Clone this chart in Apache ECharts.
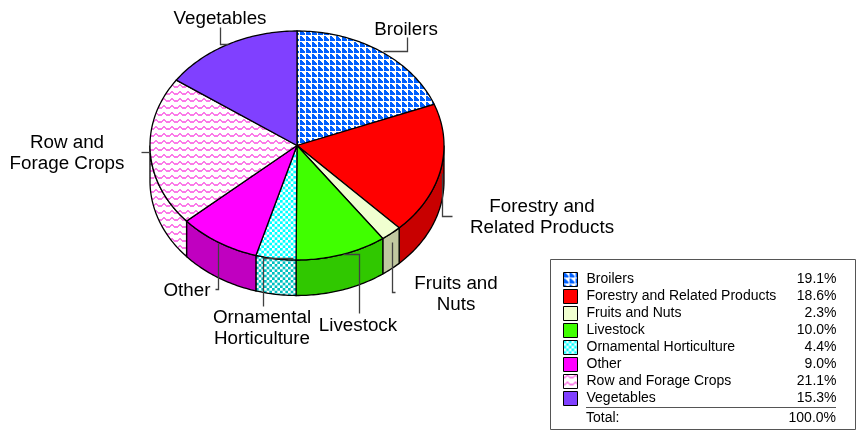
<!DOCTYPE html>
<html>
<head>
<meta charset="utf-8">
<style>html,body{margin:0;padding:0;background:#fff}#c{width:856px;height:431px}</style>
<script src="https://cdn.jsdelivr.net/npm/echarts@6/dist/echarts.min.js"></script>
</head>
<body>
<div id="c"></div>
<script>
var categories = ['Broilers','Forestry and Related Products','Fruits and Nuts','Livestock','Ornamental Horticulture','Other','Row and Forage Crops','Vegetables'];
var shares = [19.1,18.6,2.3,10.0,4.4,9.0,21.1,15.3];
var totalLabel = 'Total:';
var totalValue = '100.0%';
var sliceLabels = {
  'Broilers':['Broilers'],
  'Forestry and Related Products':['Forestry and','Related Products'],
  'Fruits and Nuts':['Fruits and','Nuts'],
  'Livestock':['Livestock'],
  'Ornamental Horticulture':['Ornamental','Horticulture'],
  'Other':['Other'],
  'Row and Forage Crops':['Row and','Forage Crops'],
  'Vegetables':['Vegetables']
};

/* ---------- layout and styling ---------- */
var FONT = '"Liberation Sans", Arial, sans-serif';
var CX = 297, CY = 145.5, RX = 147, RY = 114.5, DEPTH = 35.5;
var labelPos = {
  'Broilers':[406,30],
  'Forestry and Related Products':[542,207],
  'Fruits and Nuts':[456,284],
  'Livestock':[358,326],
  'Ornamental Horticulture':[262,318],
  'Other':[187,291],
  'Row and Forage Crops':[67,143],
  'Vegetables':[220,19]
};
var leaders = [
  [[407,37],[407,51],[383,51]],
  [[442,173],[442,216],[452,216]],
  [[392,242],[392,292],[395,292]],
  [[343,254],[359,254],[359,313]],
  [[293,258],[263,258],[263,306]],
  [[218,243],[218,289],[215,289]],
  [[150,152],[141,152]],
  [[220,27],[220,44],[228,44]]
];
function bitmap(rows, on, off) {
  var c = document.createElement('canvas');
  c.width = rows[0].length; c.height = rows.length;
  var g = c.getContext('2d');
  g.fillStyle = off; g.fillRect(0,0,c.width,c.height);
  g.fillStyle = on;
  rows.forEach(function(r,y){ for (var x=0;x<r.length;x++) if (r[x]==='#') g.fillRect(x,y,1,1); });
  return {image:c, repeat:'repeat'};
}
function softCheck(on, off) {
  var c = document.createElement('canvas');
  c.width = 16; c.height = 16;
  var g = c.getContext('2d'), s = 16/6;
  g.fillStyle = off; g.fillRect(0,0,16,16);
  g.fillStyle = on;
  for (var y=0;y<6;y++) for (var x=0;x<6;x++) if ((x+y)%2===0) g.fillRect(x*s,y*s,s,s);
  return {image:c, repeat:'repeat'};
}
var stair = ['##....','###...','####..','#####.','#####.','......'];
var zig = ['...##...','..####..','###..###','##....##','.......','.......','.......'].map(function(r){return (r+'........').slice(0,8);});
var topFill = [
  bitmap(stair,'#0060ff','#ffffff'), '#ff0000', '#f0ffd0', '#40ff00',
  softCheck('#00ffff','#ffffff'), '#ff00ff',
  bitmap(zig,'#fb7ae8','#ffffff'), '#8040ff'
];
var wallFill = [
  bitmap(stair,'#0048c0','#ffffff'), '#c80000', '#c0c8a0', '#30c800',
  softCheck('#00c0c0','#ffffff'), '#c000c0',
  bitmap(zig,'#fb7ae8','#ffffff'), '#6030c0'
];

/* ---------- geometry from values ---------- */
var total = shares.reduce(function(a,b){return a+b;},0);
var spans = [], acc = 0;
shares.forEach(function(v){ spans.push([acc/total*360,(acc+v)/total*360]); acc += v; });
function pt(deg,dy){ var t = deg*Math.PI/180; return [CX+RX*Math.sin(t), CY-RY*Math.cos(t)+(dy||0)]; }
function arc(a,b,dy){ var n = Math.max(2,Math.ceil(Math.abs(b-a))), out=[]; for(var i=0;i<=n;i++) out.push(pt(a+(b-a)*i/n,dy)); return out; }

function renderSlice(idx){
  return function(){
    var s = spans[idx], kids = [];
    var a = Math.max(s[0],90), b = Math.min(s[1],270);
    if (b > a) {
      kids.push({type:'polygon', z2:1,
        shape:{points:arc(a,b,0).concat(arc(b,a,DEPTH))},
        style:{fill:wallFill[idx], stroke:'#000', lineWidth:1.3}});
    }
    kids.push({type:'polygon', z2:2,
      shape:{points:[[CX,CY]].concat(arc(s[0],s[1],0))},
      style:{fill:topFill[idx], stroke:'#000', lineWidth:1.3}});
    return {type:'group', children:kids};
  };
}

var series = categories.map(function(name,i){
  return {
    type:'custom', name:name, coordinateSystem:'none', silent:true, animation:false, clip:false,
    itemStyle:{color:topFill[i], borderColor:'#000', borderWidth:1},
    renderItem:renderSlice(i),
    data:[[shares[i]]]
  };
});

var graphics = [
  {type:'rect', z:1, shape:{x:550.5,y:259.5,width:305,height:170}, style:{fill:'none',stroke:'#555',lineWidth:1}},
  {type:'line', z:10, shape:{x1:586,y1:407.5,x2:836,y2:407.5}, style:{stroke:'#555',lineWidth:1}},
  {type:'text', z:10, x:586, y:418, style:{text:totalLabel,font:'14px '+FONT,fill:'#000',textAlign:'left',textVerticalAlign:'middle'}},
  {type:'text', z:10, x:836, y:418, style:{text:totalValue,font:'14px '+FONT,fill:'#000',textAlign:'right',textVerticalAlign:'middle'}}
];
leaders.forEach(function(p){
  graphics.push({type:'polyline', z:10, shape:{points:p.map(function(q){return [q[0]+.5,q[1]+.5];})}, style:{fill:'none',stroke:'#404040',lineWidth:1.3}});
});
categories.forEach(function(name){
  var p = labelPos[name];
  sliceLabels[name].forEach(function(line,j){
    graphics.push({type:'text', z:10, x:p[0], y:p[1]+j*21,
      style:{text:line,font:'18.8px '+FONT,fill:'#000',textAlign:'center',textVerticalAlign:'middle'}});
  });
});

var chart = echarts.init(document.getElementById('c'),null,{renderer:'canvas'});
chart.setOption({
  animation:false,
  backgroundColor:'#fff',
  legend:{
    orient:'vertical', left:563, top:272, padding:0, itemWidth:14, itemHeight:14, itemGap:2,
    selectedMode:false, icon:'rect',
    data:categories.map(function(n,i){return {name:n,itemStyle:{color:topFill[i],borderColor:'#000',borderWidth:1}};}),
    formatter:function(n){ return '{n|'+n+'}{v|'+shares[categories.indexOf(n)].toFixed(1)+'%}'; },
    textStyle:{rich:{
      n:{width:185,padding:[0,0,0,4],fontFamily:FONT,fontSize:14,color:'#000',height:14,lineHeight:14},
      v:{width:65,align:'right',fontFamily:FONT,fontSize:14,color:'#000',height:14,lineHeight:14}
    }}
  },
  tooltip:{show:false},
  series:series,
  graphic:{elements:graphics}
});
</script>
</body>
</html>
